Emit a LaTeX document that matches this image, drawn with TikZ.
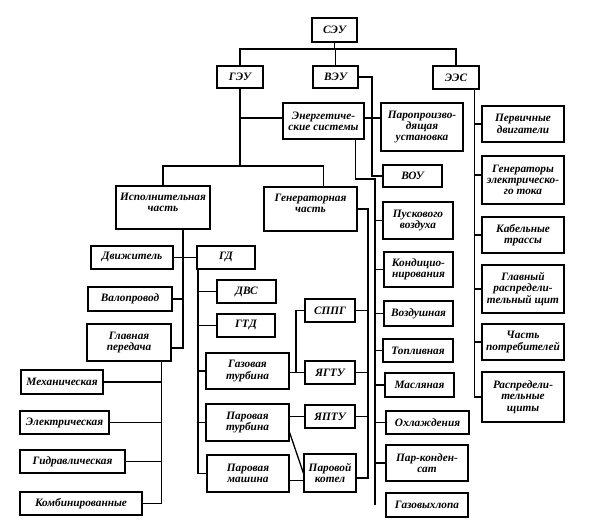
\documentclass[tikz,border=0pt]{standalone}
\usepackage{fontspec}
\setmainfont{Liberation Serif}
\begin{document}
\begin{tikzpicture}[x=1pt,y=-1pt,
  bx/.style={draw,line width=1.3pt,inner sep=0pt,align=center,
    font=\bfseries\itshape\fontsize{11.3}{11.3}\selectfont},
  ln/.style={line width=1.3pt}]
\useasboundingbox (0,0) rectangle (591,529);
\newcommand\bxat[7][]{\node[bx,#1,minimum width={#5-#3},minimum height={#6-#4}] (#2) at ({(#3+#5)/2},{(#4+#6)/2}) {#7};}
% top
\bxat{SEU}{312}{18}{357}{42}{СЭУ}
\bxat{GEU}{217}{66}{263}{88}{ГЭУ}
\bxat{VEU}{313}{66}{358}{88}{ВЭУ}
\bxat{EES}{433}{66}{479}{89}{ЭЭС}
\bxat{Energ}{283}{103}{364}{139}{Энергетиче-\\ские системы}
\bxat{Parop}{381}{103}{463}{151}{Паропроизво-\\дящая\\установка}
\bxat{VOU}{383}{165}{442}{187}{ВОУ}
% right column
\bxat{Perv}{482}{106}{564}{142}{Первичные\\двигатели}
\bxat{GenT}{482}{156}{564}{204}{Генераторы\\электрическо-\\го тока}
\bxat{Kab}{482}{217}{564}{253}{Кабельные\\трассы}
\bxat{GRS}{482}{265}{564}{313}{Главный\\распредели-\\тельный щит}
\bxat{Chast}{482}{324}{564}{360}{Часть\\потребителей}
\bxat{Rasp}{482}{372}{564}{422}{Распредели-\\тельные\\щиты}
% middle
\bxat[text depth=11pt]{Isp}{116}{186}{210}{229}{Исполнительная\\часть}
\bxat[text depth=11pt]{Gen}{264}{187}{357}{231}{Генераторная\\часть}
\bxat{Pusk}{383}{202}{453}{239}{Пускового\\воздуха}
\bxat{Kond}{384}{252}{453}{287}{Кондицио-\\нирования}
\bxat{Vozd}{384}{301}{453}{326}{Воздушная}
\bxat{Topl}{383}{339}{453}{362}{Топливная}
\bxat{Masl}{385}{373}{454}{397}{Масляная}
\bxat{Ohl}{386}{411}{469}{434}{Охлаждения}
\bxat{ParK}{386}{445}{468}{481}{Пар-конден-\\сат}
\bxat{Gaz}{386}{493}{468}{517}{Газовыхлопа}
% left
\bxat{Dvizh}{91}{246}{173}{269}{Движитель}
\bxat{GD}{197}{246}{255}{269}{ГД}
\bxat{Val}{88}{287}{172}{311}{Валопровод}
\bxat{GlP}{87}{324}{171}{361}{Главная\\передача}
\bxat{Meh}{21}{370}{103}{394}{Механическая}
\bxat{El}{20}{411}{109}{434}{Электрическая}
\bxat{Gidr}{20}{450}{125}{473}{Гидравлическая}
\bxat{Komb}{20}{492}{142}{515}{Комбинированные}
\bxat{DVS}{217}{280}{276}{303}{ДВС}
\bxat{GTD}{217}{314}{275}{337}{ГТД}
\bxat{GT}{206}{353}{289}{389}{Газовая\\турбина}
\bxat{PT}{206}{404}{289}{441}{Паровая\\турбина}
\bxat{PM}{207}{455}{289}{492}{Паровая\\машина}
\bxat{SPPG}{305}{299}{355}{322}{СППГ}
\bxat{YAGTU}{305}{361}{355}{384}{ЯГТУ}
\bxat{YAPTU}{305}{405}{355}{428}{ЯПТУ}
\bxat{Kotel}{304}{454}{356}{492}{Паровой\\котел}
% connectors
\coordinate (bus1) at (0,49);
\coordinate (bus2) at (0,166);
\coordinate (vx) at (372,0);
\coordinate (bB) at (375,179);
\coordinate (aA) at (368,0);
\coordinate (sp) at (296,0);
\coordinate (gn) at ([xshift=13pt]Gen.north);
\coordinate (enE) at ([yshift=3pt]Energ.east);
\coordinate (enW) at ([yshift=3pt]Energ.west);
\coordinate (en) at ([xshift=-9pt]Energ.south east);
\coordinate (kt) at ([yshift=-5pt]Kotel.east);
\coordinate (ee) at ([xshift=-5pt]EES.south east);
\coordinate (gt) at ([yshift=5pt]GenT.west);
\coordinate (is) at ([xshift=20pt]Isp.south);
\coordinate (gp) at ([yshift=-5.5pt]GlP.east);
\coordinate (gl) at ([xshift=-10pt]GlP.south east);
\coordinate (gd) at ([xshift=1.5pt]GD.south west);
\coordinate (pm) at ([yshift=-7pt]PM.east);
\coordinate (ptc) at ([yshift=9pt]PT.south east);
\begin{scope}[ln]
\draw (SEU.south) -- (SEU.south |- bus1);
\draw (GEU.north) |- (EES.north |- bus1) -- (EES.north);
\draw (VEU.north) -- (VEU.north |- bus1);
\draw (VEU.east) -| (vx |- VOU.west) -- (VOU.west);
\draw (enE) -- (enE -| Parop.west);
\draw (GEU.south) |- (enW);
\draw (GEU.south) -- (GEU.south |- bus2);
\draw (Isp.north) |- (gn |- bus2) -- (gn);
\draw (en) |- (bB) -- (bB |- Gaz.west);
\foreach \n in {Pusk,Kond,Vozd,Topl,Masl,Ohl,ParK}
  \draw (bB |- \n.west) -- (\n.west);
\draw (Gen.east) -| (aA |- kt) -- (kt);
\foreach \n in {SPPG,YAGTU,YAPTU}
  \draw (\n.east) -- (aA |- \n.east);
\draw (ee) |- (Rasp.west);
\foreach \n in {Perv,Kab,GRS,Chast}
  \draw (ee |- \n.west) -- (\n.west);
\draw (ee |- gt) -- (gt);
\draw (is) |- (gp);
\draw (Dvizh.east) -- (GD.west);
\draw (Val.east) -- (is |- Val.east);
\draw (gl) |- (Komb.east);
\foreach \n in {Meh,El,Gidr}
  \draw (\n.east) -- (gl |- \n.east);
\draw (gd) |- (PM.west);
\foreach \n in {DVS,GTD,GT,PT}
  \draw (gd |- \n.west) -- (\n.west);
\draw (YAGTU.west -| GT.east) -- (YAGTU.west);
\draw (sp |- YAGTU.west) |- (SPPG.west);
\draw (YAPTU.west -| PT.east) -- (YAPTU.west);
\draw (ptc) -- (Kotel.west);
\draw (pm) -- (pm -| Kotel.west);
\end{scope}
\end{tikzpicture}
\end{document}
